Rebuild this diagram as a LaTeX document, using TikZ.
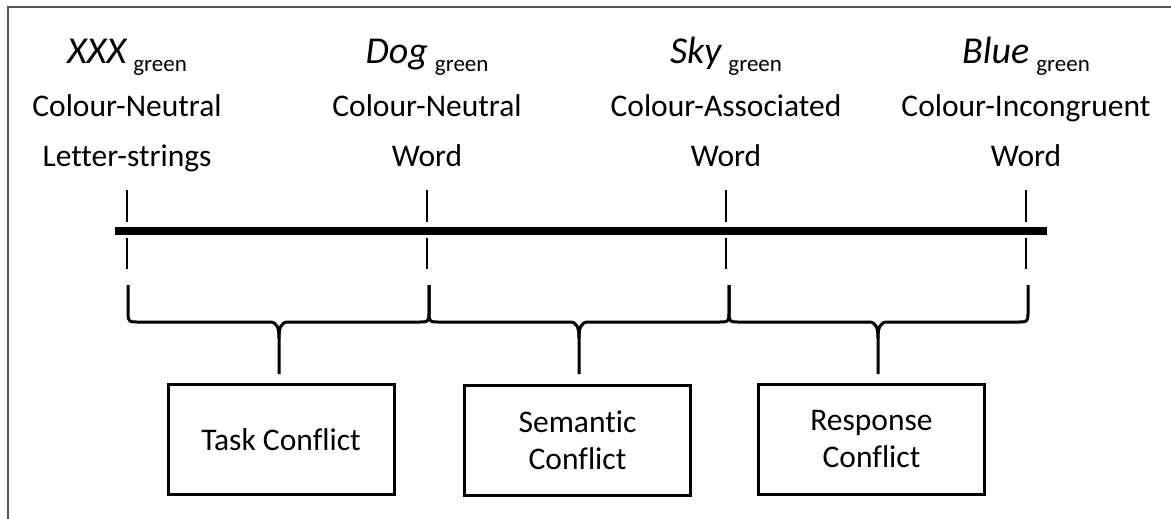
\documentclass[tikz,border=0pt]{standalone}
\usepackage{fontspec}
\setmainfont{Carlito}[Ligatures=NoCommon]
\usetikzlibrary{calc}
\definecolor{framegray}{RGB}{85,85,85}
\newcommand\labfont{\fontsize{31.5}{37}\selectfont}
\newcommand\wordfont{\fontsize{38}{42}\selectfont\itshape}
\newcommand\subfont{\fontsize{23}{25}\selectfont\upshape}
\newcommand\stim[1]{{\wordfont #1}\hspace{7pt}\raisebox{-8pt}{\subfont green}}
\newcommand\curlybrace[3]{%
  \draw[bracestyle] ({#1},285) -- ({#1},314) .. controls ({#1},322) and ({#1+2},322) .. ({#1+9},322)
    -- ({#2-9},322) .. controls ({#2-2},322) and ({#2},328) .. ({#2},338) -- ({#2},374);
  \draw[bracestyle] ({#2},338) .. controls ({#2},328) and ({#2+2},322) .. ({#2+9},322)
    -- ({#3-9},322) .. controls ({#3-2},322) and ({#3},322) .. ({#3},314) -- ({#3},285);
}
\begin{document}
\begin{tikzpicture}[x=1pt,y=-1pt,
  lab/.style={anchor=base,inner sep=0pt,font=\labfont},
  tickline/.style={line width=2.5pt},
  bracestyle/.style={line width=3pt,line join=round},
  cbox/.style={draw,line width=3pt,minimum width=226pt,minimum height=110pt,inner sep=0pt,align=center,font=\labfont}]
\useasboundingbox (0,0) rectangle (1171,519);
% frame
\draw[framegray,line width=2pt] (8,519) -- (8,7) -- (1171,7);
% column labels
\foreach \n/\x/\w/\a/\b in {1/127/XXX/Colour-Neutral/Letter-strings,
                             2/427/Dog/Colour-Neutral/Word,
                             3/726/Sky/Colour-Associated/Word,
                             4/1026/Blue/Colour-Incongruent/Word}{
  \node[lab] (w\n) at (\x,64) {\stim{\w}};
  \node[lab] (c\n) at (\x,117) {\a};
  \node[lab] (k\n) at (\x,166) {\b};
  \coordinate (ta\n) at (\x,190);
  \coordinate (tb\n) at (\x,222);
  \coordinate (tc\n) at (\x,238);
  \coordinate (td\n) at (\x,269);
  \draw[tickline] (ta\n) -- (tb\n);
  \draw[tickline] (tc\n) -- (td\n);
}
% axis
\coordinate (L) at (115,231);
\coordinate (R) at (1047,231);
\draw[line width=8pt] (L) -- (R);
% braces
\curlybrace{128}{279}{429}
\curlybrace{429}{579}{729}
\curlybrace{729}{878}{1028}
% boxes
\node[cbox] (task) at (281,439.5) {Task Conflict};
\node[cbox] (sem) at (577.5,440) {Semantic\\Conflict};
\node[cbox] (resp) at (871.5,439.5) {Response\\Conflict};
\end{tikzpicture}
\end{document}
